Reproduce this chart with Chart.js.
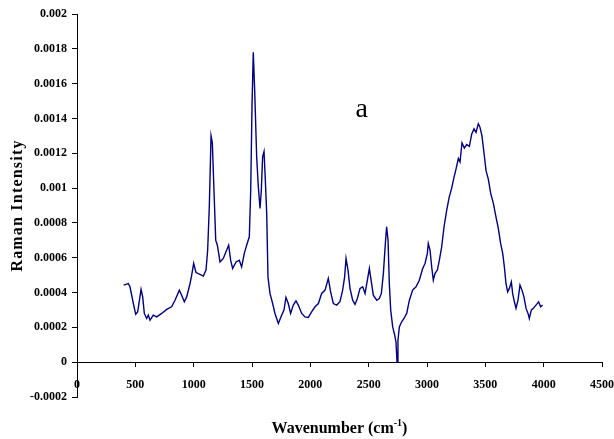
<!DOCTYPE html>
<html lang="en">
<head>
  <meta charset="UTF-8" />
  <title>Raman spectrum a</title>
  <script src="https://cdn.jsdelivr.net/npm/chart.js"></script>
  <style>
    body {
      margin: 0;
      background: #fff;
    }

    .wrap {
      width: 614px;
      height: 439px;
    }
  </style>
</head>
<body>
  <div class="wrap">
    <canvas id="ramanChart" width="614" height="439"></canvas>
  </div>

  <script>
    // wavenumber (cm-1) and intensity
    const wavenumbers = [
      400, 440, 454, 483, 503, 520, 549, 563, 577, 597, 611, 626, 654, 683, 726, 769, 811, 840, 877, 897,
      920, 940, 969, 983, 1000, 1020, 1054, 1083, 1106, 1120, 1134, 1149, 1160, 1174, 1189, 1203, 1226, 1254, 1277, 1300,
      1317, 1334, 1363, 1391, 1411, 1434, 1454, 1477, 1489, 1500, 1511, 1523, 1540, 1554, 1569, 1580, 1591, 1603, 1614, 1626,
      1637, 1654, 1677, 1697, 1726, 1754, 1774, 1791, 1811, 1831, 1854, 1877, 1897, 1926, 1954, 1983, 2011, 2040, 2069, 2097,
      2126, 2154, 2174, 2197, 2226, 2254, 2277, 2294, 2306, 2323, 2340, 2363, 2383, 2403, 2426, 2449, 2469, 2489, 2506, 2523,
      2540, 2569, 2591, 2609, 2626, 2643, 2654, 2666, 2677, 2689, 2706, 2723, 2734, 2743, 2751, 2763, 2783, 2803, 2826, 2849,
      2877, 2906, 2934, 2963, 2983, 3003, 3011, 3026, 3040, 3054, 3069, 3089, 3106, 3126, 3146, 3169, 3191, 3211, 3231, 3249,
      3269, 3283, 3300, 3320, 3340, 3363, 3383, 3403, 3420, 3440, 3454, 3471, 3489, 3506, 3526, 3546, 3569, 3591, 3611, 3631,
      3649, 3663, 3677, 3691, 3706, 3723, 3734, 3749, 3763, 3780, 3797, 3814, 3831, 3849, 3866, 3877, 3894, 3911, 3934, 3957,
      3974, 3991
    ];
    const intensity = [
      0.000443, 0.000452, 0.000433, 0.000337, 0.000276, 0.000289, 0.000418, 0.000375, 0.000280, 0.000251, 0.000270, 0.000241, 0.000270, 0.000260, 0.000280, 0.000303, 0.000318, 0.000356, 0.000414, 0.000385,
      0.000347, 0.000375, 0.000452, 0.000500, 0.000567, 0.000515, 0.000505, 0.000495, 0.000529, 0.000644, 0.000893, 0.001300, 0.001260, 0.000989, 0.000701, 0.000672, 0.000576, 0.000596, 0.000634, 0.000672,
      0.000586, 0.000538, 0.000576, 0.000586, 0.000548, 0.000625, 0.000672, 0.000720, 0.000989, 0.001470, 0.001780, 0.001560, 0.001180, 0.001010, 0.000883, 0.000989, 0.001180, 0.001210, 0.001050, 0.000855,
      0.000490, 0.000395, 0.000337, 0.000280, 0.000222, 0.000270, 0.000299, 0.000372, 0.000337, 0.000280, 0.000328, 0.000352, 0.000328, 0.000280, 0.000260, 0.000257, 0.000289, 0.000318, 0.000337, 0.000395,
      0.000414, 0.000481, 0.000404, 0.000337, 0.000328, 0.000347, 0.000414, 0.000490, 0.000596, 0.000529, 0.000424, 0.000356, 0.000332, 0.000366, 0.000424, 0.000433, 0.000395, 0.000471, 0.000538, 0.000461,
      0.000385, 0.000356, 0.000366, 0.000395, 0.000510, 0.000682, 0.000778, 0.000701, 0.000452, 0.000299, 0.000203, 0.000155, 0.000117, 0.000002, 0.000126, 0.000203, 0.000232, 0.000251, 0.000280, 0.000356,
      0.000414, 0.000433, 0.000471, 0.000538, 0.000567, 0.000625, 0.000682, 0.000644, 0.000548, 0.000471, 0.000510, 0.000529, 0.000586, 0.000663, 0.000778, 0.000874, 0.000950, 0.000998, 0.001060, 0.001110,
      0.001170, 0.001150, 0.001260, 0.001230, 0.001250, 0.001240, 0.001310, 0.001340, 0.001320, 0.001370, 0.001350, 0.001300, 0.001200, 0.001100, 0.001050, 0.000970, 0.000912, 0.000835, 0.000770, 0.000682,
      0.000625, 0.000548, 0.000452, 0.000404, 0.000424, 0.000461, 0.000395, 0.000347, 0.000309, 0.000356, 0.000443, 0.000414, 0.000375, 0.000309, 0.000280, 0.000251, 0.000299, 0.000309, 0.000328, 0.000347,
      0.000318, 0.000328
    ];

    const xTicks = [0, 500, 1000, 1500, 2000, 2500, 3000, 3500, 4000, 4500];
    const yTicks = [-0.0002, 0, 0.0002, 0.0004, 0.0006, 0.0008, 0.001, 0.0012, 0.0014, 0.0016, 0.0018, 0.002];

    const yTitle = 'Raman Intensity';
    const xTitle = ['Wavenumber (cm', '-1', ')'];
    const panelLabel = 'a';
    const panelLabelAt = [2440, 0.00141];

    const serif = '"Liberation Serif", "Times New Roman", serif';

    const textPlugin = {
      id: 'texts',
      afterDraw(chart) {
        const { ctx, chartArea, scales } = chart;
        ctx.save();
        ctx.fillStyle = '#000';

        // y title, rotated
        ctx.save();
        ctx.font = 'bold 16px ' + serif;
        if ('letterSpacing' in ctx) ctx.letterSpacing = '1.2px';
        ctx.translate(18, (chartArea.top + chartArea.bottom) / 2);
        ctx.rotate(-Math.PI / 2);
        ctx.textAlign = 'center';
        ctx.textBaseline = 'middle';
        ctx.fillText(yTitle, 0, 0);
        ctx.restore();

        // x title with superscript
        const big = 'bold 16px ' + serif;
        const small = 'bold 10px ' + serif;
        ctx.font = big;
        const w1 = ctx.measureText(xTitle[0]).width;
        const w3 = ctx.measureText(xTitle[2]).width;
        ctx.font = small;
        const w2 = ctx.measureText(xTitle[1]).width;
        let x = (chartArea.left + chartArea.right) / 2 - (w1 + w2 + w3) / 2;
        const base = 433;
        ctx.textAlign = 'left';
        ctx.textBaseline = 'alphabetic';
        ctx.font = big;
        ctx.fillText(xTitle[0], x, base);
        x += w1;
        ctx.font = small;
        ctx.fillText(xTitle[1], x, base - 7);
        x += w2;
        ctx.font = big;
        ctx.fillText(xTitle[2], x, base);

        // panel label
        ctx.font = '28px ' + serif;
        ctx.textAlign = 'center';
        ctx.fillText(panelLabel, scales.x.getPixelForValue(panelLabelAt[0]), scales.y.getPixelForValue(panelLabelAt[1]));
        ctx.restore();
      }
    };

    new Chart(document.getElementById('ramanChart'), {
      type: 'line',
      data: {
        datasets: [{
          data: wavenumbers.map((w, i) => ({ x: w, y: intensity[i] })),
          borderColor: '#000080',
          borderWidth: 1.4,
          pointRadius: 0,
          fill: false,
          tension: 0
        }]
      },
      options: {
        responsive: false,
        animation: false,
        devicePixelRatio: 1,
        layout: {
          padding: { left: 0, right: 12, top: 14, bottom: 42 }
        },
        plugins: {
          legend: { display: false },
          tooltip: { enabled: false }
        },
        scales: {
          x: {
            type: 'linear',
            position: { y: 0 },
            min: xTicks[0],
            max: xTicks[xTicks.length - 1],
            afterFit: s => { s.height = 0; s.paddingLeft = 0; s.paddingRight = 0; },
            afterBuildTicks: s => { s.ticks = xTicks.map(v => ({ value: v })); },
            ticks: {
              color: '#000',
              font: { family: serif, size: 12, weight: 'bold' },
              padding: 12,
              maxRotation: 0,
              callback: v => String(v)
            },
            grid: { display: true, drawOnChartArea: false, tickLength: 4, color: '#000' },
            border: { color: '#000', width: 1 }
          },
          y: {
            min: yTicks[0],
            max: yTicks[yTicks.length - 1],
            afterFit: s => { s.width = 77; },
            afterBuildTicks: s => { s.ticks = yTicks.map(v => ({ value: v })); },
            ticks: {
              color: '#000',
              font: { family: serif, size: 12, weight: 'bold' },
              padding: 5,
              callback: v => String(+v.toFixed(4))
            },
            grid: { display: true, drawOnChartArea: false, tickLength: 5, color: '#000' },
            border: { color: '#000', width: 1 }
          }
        }
      },
      plugins: [textPlugin]
    });
  </script>
</body>
</html>
